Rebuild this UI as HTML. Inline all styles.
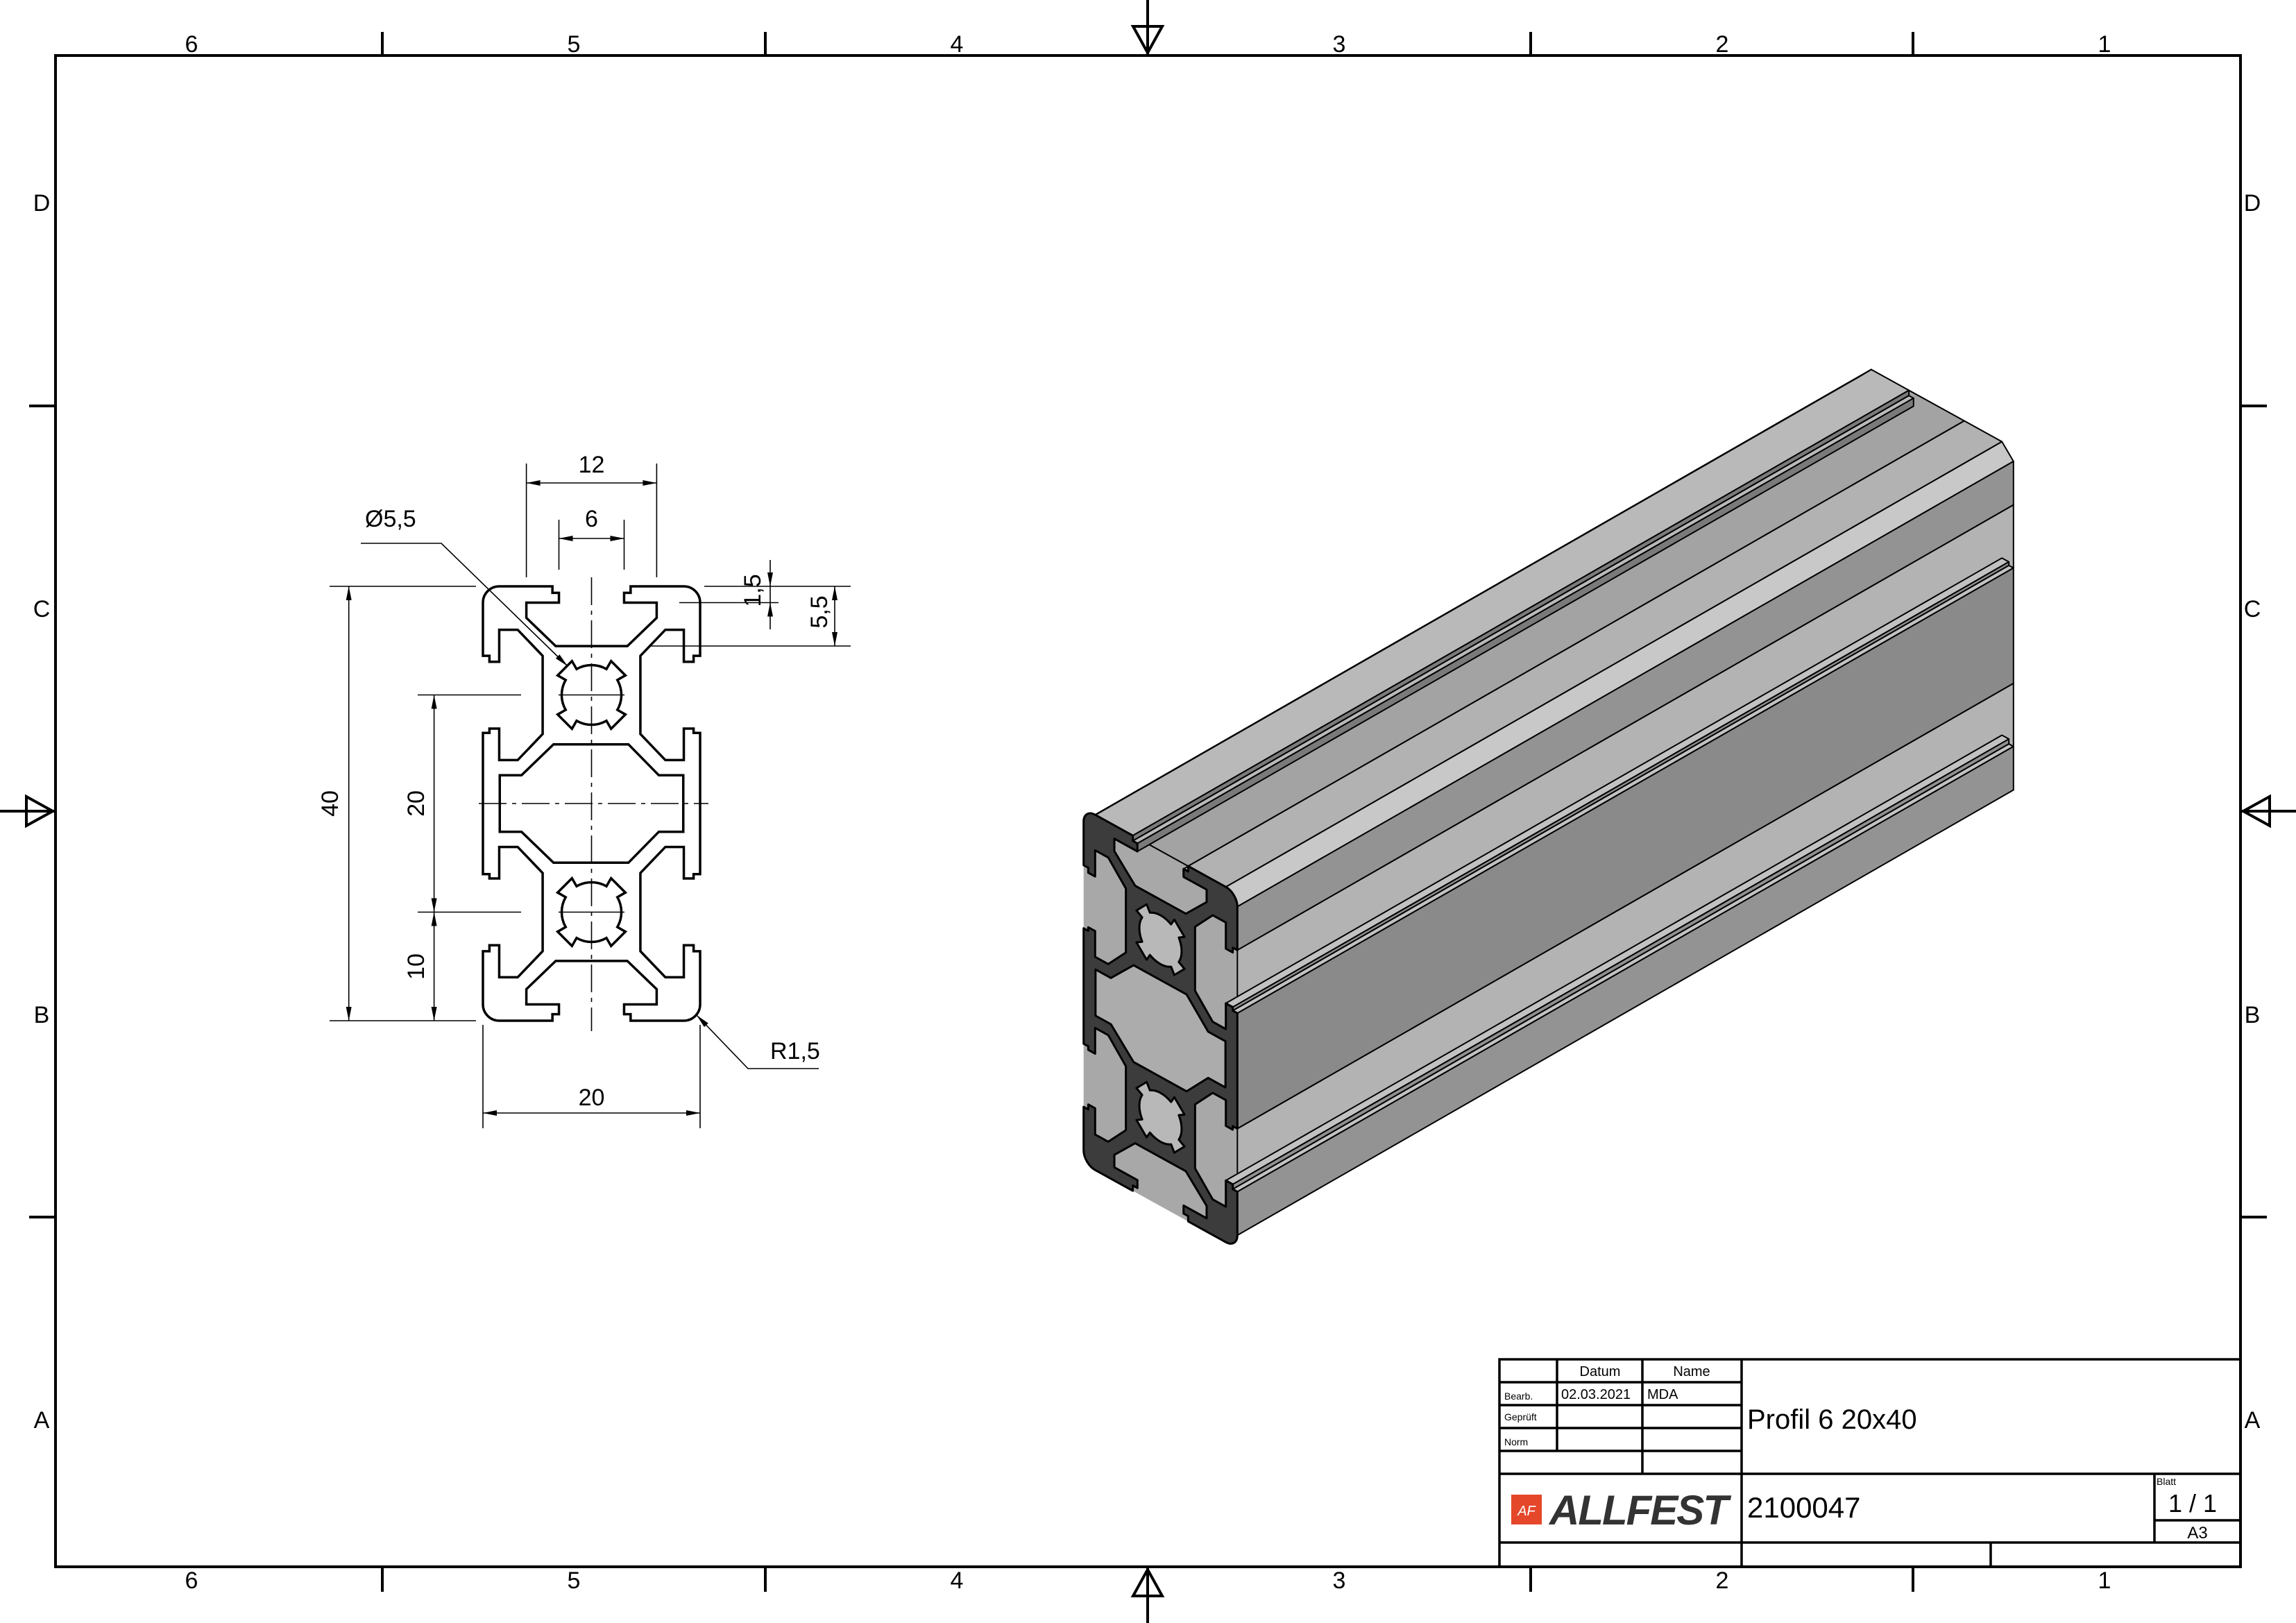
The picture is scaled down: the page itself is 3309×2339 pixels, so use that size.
<!DOCTYPE html>
<html><head><meta charset="utf-8"><style>
html,body{margin:0;padding:0;background:#fff}
svg{display:block}
text{font-family:"Liberation Sans",sans-serif;fill:#000}
</style></head><body>
<svg width="3309" height="2339" viewBox="0 0 3309 2339" xmlns="http://www.w3.org/2000/svg">
<defs>
<marker id="ar" viewBox="0 0 10 4" refX="10" refY="2" markerWidth="26" markerHeight="8" markerUnits="userSpaceOnUse" orient="auto-start-reverse"><path d="M0,0L10,2L0,4z" fill="#000"/></marker>
<path id="prof" vector-effect="non-scaling-stroke" d="M -10,-18.5 A1.5 1.5 0 0 1 -8.5,-20 L -3.6,-20 L -3.6,-19.4 L -3,-19.4 L -3,-18.5 L -6,-18.5 L -6,-17.1 L -3.3,-14.5 L 3.3,-14.5 L 6,-17.1 L 6,-18.5 L 3,-18.5 L 3,-19.4 L 3.6,-19.4 L 3.6,-20 L 8.5,-20 A1.5 1.5 0 0 1 10,-18.5 L 10,-13.6 L 9.4,-13.6 L 9.4,-13.05 L 8.5,-13.05 L 8.5,-16 L 6.8,-16 L 4.5,-13.6 L 4.5,-6.4 L 6.8,-4 L 8.5,-4 L 8.5,-6.9 L 9.4,-6.9 L 9.4,-6.5 L 10,-6.5 L 10,6.5 L 9.4,6.5 L 9.4,6.9 L 8.5,6.9 L 8.5,4 L 6.8,4 L 4.5,6.4 L 4.5,13.6 L 6.8,16 L 8.5,16 L 8.5,13.05 L 9.4,13.05 L 9.4,13.6 L 10,13.6 L 10,18.5 A1.5 1.5 0 0 1 8.5,20 L 3.6,20 L 3.6,19.4 L 3,19.4 L 3,18.5 L 6,18.5 L 6,17.1 L 3.3,14.5 L -3.3,14.5 L -6,17.1 L -6,18.5 L -3,18.5 L -3,19.4 L -3.6,19.4 L -3.6,20 L -8.5,20 A1.5 1.5 0 0 1 -10,18.5 L -10,13.6 L -9.4,13.6 L -9.4,13.05 L -8.5,13.05 L -8.5,16 L -6.8,16 L -4.5,13.6 L -4.5,6.4 L -6.8,4 L -8.5,4 L -8.5,6.9 L -9.4,6.9 L -9.4,6.5 L -10,6.5 L -10,-6.5 L -9.4,-6.5 L -9.4,-6.9 L -8.5,-6.9 L -8.5,-4 L -6.8,-4 L -4.5,-6.4 L -4.5,-13.6 L -6.8,-16 L -8.5,-16 L -8.5,-13.05 L -9.4,-13.05 L -9.4,-13.6 L -10,-13.6 Z"/>
<path id="cav" vector-effect="non-scaling-stroke" d="M -8.45,-2.6 L -6.45,-2.6 L -3.5,-5.45 L 3.4,-5.45 L 6.2,-2.6 L 8.45,-2.6 L 8.45,2.6 L 6.2,2.6 L 3.4,5.45 L -3.5,5.45 L -6.45,2.6 L -8.45,2.6 Z"/>
<path id="hole" vector-effect="non-scaling-stroke" d="M 2.75,0 A2.75 2.75 0 0 0 2.38,-1.375 L 3.12,-1.8 L 1.8,-3.12 L 1.375,-2.38 A2.75 2.75 0 0 0 -1.375,-2.38 L -1.8,-3.12 L -3.12,-1.8 L -2.38,-1.375 A2.75 2.75 0 0 0 -2.38,1.375 L -3.12,1.8 L -1.8,3.12 L -1.375,2.38 A2.75 2.75 0 0 0 1.375,2.38 L 1.8,3.12 L 3.12,1.8 L 2.38,1.375 A2.75 2.75 0 0 0 2.75,0 Z"/>
</defs>

<!-- frame -->
<rect x="80" y="80" width="3149" height="2178" fill="none" stroke="#000" stroke-width="4"/>
<g stroke="#000" stroke-width="4">
<line x1="551" y1="46" x2="551" y2="80"/><line x1="1103" y1="46" x2="1103" y2="80"/><line x1="2206" y1="46" x2="2206" y2="80"/><line x1="2757" y1="46" x2="2757" y2="80"/>
<line x1="551" y1="2258" x2="551" y2="2294"/><line x1="1103" y1="2258" x2="1103" y2="2294"/><line x1="2206" y1="2258" x2="2206" y2="2294"/><line x1="2757" y1="2258" x2="2757" y2="2294"/>
<line x1="42" y1="585" x2="80" y2="585"/><line x1="42" y1="1754" x2="80" y2="1754"/>
<line x1="3229" y1="585" x2="3267" y2="585"/><line x1="3229" y1="1754" x2="3267" y2="1754"/>
<line x1="1654" y1="0" x2="1654" y2="80"/><line x1="1654" y1="2258" x2="1654" y2="2339"/>
<line x1="0" y1="1169" x2="80" y2="1169"/><line x1="3229" y1="1169" x2="3309" y2="1169"/>
</g>
<g fill="none" stroke="#000" stroke-width="4">
<polygon points="1633,38 1675,38 1654,76"/>
<polygon points="1633,2300 1675,2300 1654,2262"/>
<polygon points="38,1148 38,1190 76,1169"/>
<polygon points="3271,1148 3271,1190 3233,1169"/>
</g>
<g font-size="34" text-anchor="middle">
<text x="276" y="75">6</text><text x="827" y="75">5</text><text x="1379" y="75">4</text><text x="1930" y="75">3</text><text x="2482" y="75">2</text><text x="3033" y="75">1</text>
<text x="276" y="2289">6</text><text x="827" y="2289">5</text><text x="1379" y="2289">4</text><text x="1930" y="2289">3</text><text x="2482" y="2289">2</text><text x="3033" y="2289">1</text>
<text x="60" y="304">D</text><text x="60" y="889">C</text><text x="60" y="1474">B</text><text x="60" y="2058">A</text>
<text x="3246" y="304">D</text><text x="3246" y="889">C</text><text x="3246" y="1474">B</text><text x="3246" y="2058">A</text>
</g>

<!-- 2D section -->
<g transform="translate(852.5,1158) scale(15.65)" fill="none" stroke="#000" stroke-width="3.5">
<use href="#prof"/>
<use href="#cav"/>
<use href="#hole" transform="translate(0,-10)"/>
<use href="#hole" transform="translate(0,10)"/>
</g>
<g stroke="#000" stroke-width="1.6" fill="none">
<line x1="852.5" y1="832" x2="852.5" y2="1486" stroke-dasharray="40,8,6,8"/>
<line x1="690" y1="1158" x2="1021" y2="1158" stroke-dasharray="40,8,6,8"/>
<line x1="805" y1="1001.5" x2="900" y2="1001.5"/>
<line x1="805" y1="1314.5" x2="900" y2="1314.5"/>
<line x1="758.6" y1="832" x2="758.6" y2="668"/><line x1="946.4" y1="832" x2="946.4" y2="668"/>
<line x1="758.6" y1="696" x2="946.4" y2="696" marker-start="url(#ar)" marker-end="url(#ar)"/>
<line x1="805.5" y1="821" x2="805.5" y2="749"/><line x1="899.5" y1="821" x2="899.5" y2="749"/>
<line x1="805.5" y1="776" x2="899.5" y2="776" marker-start="url(#ar)" marker-end="url(#ar)"/>
<polyline points="520,783 636,783 818,960" marker-end="url(#ar)"/>
<line x1="475" y1="845" x2="686" y2="845"/><line x1="475" y1="1471" x2="686" y2="1471"/>
<line x1="502.7" y1="845" x2="502.7" y2="1471" marker-start="url(#ar)" marker-end="url(#ar)"/>
<line x1="602" y1="1001.5" x2="751" y2="1001.5"/><line x1="602" y1="1314.5" x2="751" y2="1314.5"/>
<line x1="625.6" y1="1001.5" x2="625.6" y2="1314.5" marker-start="url(#ar)" marker-end="url(#ar)"/>
<line x1="625.6" y1="1314.5" x2="625.6" y2="1471" marker-start="url(#ar)" marker-end="url(#ar)"/>
<line x1="1015" y1="845" x2="1226" y2="845"/>
<line x1="979" y1="868.5" x2="1122" y2="868.5"/>
<line x1="938" y1="931" x2="1226" y2="931"/>
<line x1="1110" y1="807" x2="1110" y2="845" marker-end="url(#ar)"/>
<line x1="1110" y1="907" x2="1110" y2="868.5" marker-end="url(#ar)"/>
<line x1="1110" y1="845" x2="1110" y2="868.5"/>
<line x1="1203" y1="845" x2="1203" y2="931" marker-start="url(#ar)" marker-end="url(#ar)"/>
<line x1="696" y1="1477" x2="696" y2="1626"/><line x1="1009" y1="1477" x2="1009" y2="1626"/>
<line x1="696" y1="1604" x2="1009" y2="1604" marker-start="url(#ar)" marker-end="url(#ar)"/>
<polyline points="1180,1540 1078,1540 1004,1463" marker-end="url(#ar)"/>
</g>
<g font-size="34">
<text x="852.5" y="681" text-anchor="middle">12</text>
<text x="852.5" y="759" text-anchor="middle">6</text>
<text x="526" y="759">Ø5,5</text>
<text transform="translate(487,1158) rotate(-90)" text-anchor="middle">40</text>
<text transform="translate(611,1158) rotate(-90)" text-anchor="middle">20</text>
<text transform="translate(611,1393) rotate(-90)" text-anchor="middle">10</text>
<text transform="translate(1096,851) rotate(-90)" text-anchor="middle">1,5</text>
<text transform="translate(1192,882) rotate(-90)" text-anchor="middle">5,5</text>
<text x="852.5" y="1593" text-anchor="middle">20</text>
<text x="1110" y="1526">R1,5</text>
</g>

<!-- 3D extrusion -->
<g transform="matrix(11.08 6.12 0 12.8 1561.7 1165) translate(10 20)" stroke="#000" stroke-linejoin="round">
<polygon fill="#a8a8a8" stroke="none" points="-8.5,20 -10,18.5 -10,-18.5 90.95,-116.9 92.45,-118.4 109.45,-118.4 110.95,-116.9 110.95,-79.9 10,18.5 8.5,20"/>
<g stroke-width="2">
<polygon vector-effect="non-scaling-stroke" fill="#a3a3a3" points="-3.6,-20 3.6,-20 104.55,-118.4 97.35,-118.4"/>
<polygon vector-effect="non-scaling-stroke" fill="#b9b9b9" points="-8.5,-20 -3.6,-20 97.35,-118.4 92.45,-118.4"/>
<polygon vector-effect="non-scaling-stroke" fill="#c6c6c6" points="-10,-18.5 -8.5,-20 92.45,-118.4 90.95,-116.9"/>
<polygon vector-effect="non-scaling-stroke" fill="#7a7a7a" points="-3.6,-20 -3.6,-19.4 97.35,-117.8 97.35,-118.4"/>
<polygon vector-effect="non-scaling-stroke" fill="#b9b9b9" points="-3.6,-19.4 -3,-19.4 97.95,-117.8 97.35,-117.8"/>
<polygon vector-effect="non-scaling-stroke" fill="#7a7a7a" points="-3,-19.4 -3,-18.5 97.95,-116.9 97.95,-117.8"/>
<polygon vector-effect="non-scaling-stroke" fill="#b9b9b9" points="3,-19.4 3.6,-19.4 104.55,-117.8 103.95,-117.8"/>
<polygon vector-effect="non-scaling-stroke" fill="#b2b2b2" points="3.6,-20 8.5,-20 109.45,-118.4 104.55,-118.4"/>
<polygon vector-effect="non-scaling-stroke" fill="#c8c8c8" points="8.5,-20 10,-18.5 110.95,-116.9 109.45,-118.4"/>
<polygon vector-effect="non-scaling-stroke" fill="#939393" points="10,-18.5 10,-13.6 110.95,-112 110.95,-116.9"/>
<polygon vector-effect="non-scaling-stroke" fill="#b3b3b3" points="10,-13.6 10,-6.5 110.95,-104.9 110.95,-112"/>
<polygon vector-effect="non-scaling-stroke" fill="#c2c2c2" points="8.5,-6.9 9.4,-6.9 110.35,-105.3 109.45,-105.3"/>
<polygon vector-effect="non-scaling-stroke" fill="#8f8f8f" points="9.4,-6.9 9.4,-6.5 110.35,-104.9 110.35,-105.3"/>
<polygon vector-effect="non-scaling-stroke" fill="#c2c2c2" points="9.4,-6.5 10,-6.5 110.95,-104.9 110.35,-104.9"/>
<polygon vector-effect="non-scaling-stroke" fill="#8a8a8a" points="10,-6.5 10,6.5 110.95,-91.9 110.95,-104.9"/>
<polygon vector-effect="non-scaling-stroke" fill="#b3b3b3" points="10,6.5 10,13.6 110.95,-84.8 110.95,-91.9"/>
<polygon vector-effect="non-scaling-stroke" fill="#c2c2c2" points="8.5,13.05 9.4,13.05 110.35,-85.35 109.45,-85.35"/>
<polygon vector-effect="non-scaling-stroke" fill="#8f8f8f" points="9.4,13.05 9.4,13.6 110.35,-84.8 110.35,-85.35"/>
<polygon vector-effect="non-scaling-stroke" fill="#c2c2c2" points="9.4,13.6 10,13.6 110.95,-84.8 110.35,-84.8"/>
<polygon vector-effect="non-scaling-stroke" fill="#939393" points="10,13.6 10,18.5 110.95,-79.9 110.95,-84.8"/>
</g>
<g stroke-width="3">
<use href="#prof" fill="#3c3c3c"/>
<use href="#cav" fill="#acacac"/>
<use href="#hole" transform="translate(0,-10)" fill="#b8b8b8"/>
<use href="#hole" transform="translate(0,10)" fill="#b8b8b8"/>
</g>
</g>

<!-- title block -->
<g stroke="#000" stroke-width="3.5" fill="none">
<rect x="2161" y="1959" width="1068" height="299"/>
<line x1="2161" y1="1992" x2="2510" y2="1992"/>
<line x1="2161" y1="2025" x2="2510" y2="2025"/>
<line x1="2161" y1="2058" x2="2510" y2="2058"/>
<line x1="2161" y1="2091" x2="2510" y2="2091"/>
<line x1="2161" y1="2124" x2="3229" y2="2124"/>
<line x1="2161" y1="2223" x2="3229" y2="2223"/>
<line x1="2244" y1="1959" x2="2244" y2="2091"/>
<line x1="2367" y1="1959" x2="2367" y2="2124"/>
<line x1="2510" y1="1959" x2="2510" y2="2258"/>
<line x1="3105" y1="2124" x2="3105" y2="2223"/>
<line x1="3105" y1="2191" x2="3229" y2="2191"/>
<line x1="2869" y1="2223" x2="2869" y2="2258"/>
</g>
<g font-size="20">
<text x="2306" y="1983" text-anchor="middle">Datum</text>
<text x="2438" y="1983" text-anchor="middle">Name</text>
<text x="2250" y="2016">02.03.2021</text>
<text x="2374" y="2016">MDA</text>
</g>
<g font-size="14">
<text x="2168" y="2017">Bearb.</text>
<text x="2168" y="2047">Geprüft</text>
<text x="2168" y="2083">Norm</text>
<text x="3108" y="2140">Blatt</text>
</g>
<text x="2518" y="2059" font-size="40">Profil 6 20x40</text>
<text x="2518" y="2187" font-size="42">2100047</text>
<text x="3160" y="2179" font-size="36" text-anchor="middle">1 / 1</text>
<text x="3167" y="2217" font-size="24" text-anchor="middle">A3</text>
<rect x="2178" y="2154" width="44" height="43" fill="#e5472b"/>
<text x="2200" y="2184" font-size="20" font-style="italic" text-anchor="middle" style="fill:#fff">AF</text>
<text x="2233" y="2197" font-size="60" font-weight="bold" font-style="italic" letter-spacing="-2" style="fill:#333">ALLFEST</text>
</svg>
</body></html>
